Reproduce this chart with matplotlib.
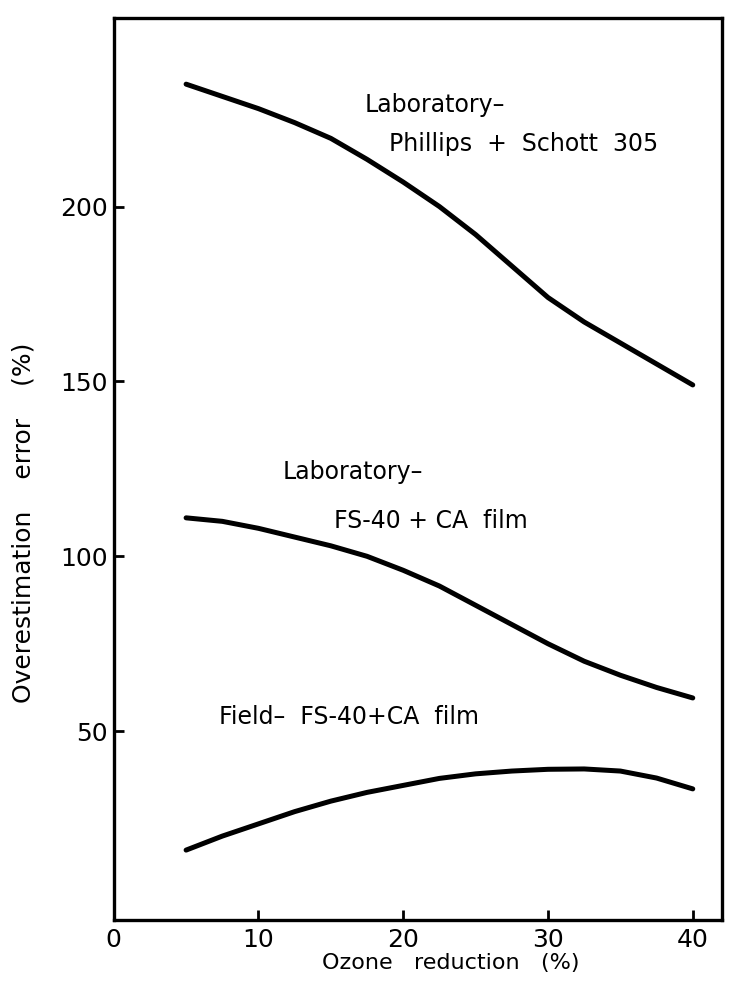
import matplotlib
matplotlib.use("Agg")
import matplotlib.pyplot as plt

# values
ozone = [5, 7.5, 10, 12.5, 15, 17.5, 20, 22.5, 25, 27.5, 30, 32.5, 35, 37.5, 40]
lab_phillips = [235, 231.5, 228, 224, 219.5, 213.5, 207, 200, 192, 183, 174, 167, 161, 155, 149]
lab_fs40 = [111, 110, 108, 105.5, 103, 100, 96, 91.5, 86, 80.5, 75, 70, 66, 62.5, 59.5]
field_fs40 = [16, 20, 23.5, 27, 30, 32.5, 34.5, 36.5, 37.8, 38.6, 39.1, 39.2, 38.6, 36.6, 33.5]

xticks = [0, 10, 20, 30, 40]
yticks = [50, 100, 150, 200]

plt.rcParams['font.family'] = ['DejaVu Sans']

fig = plt.figure(figsize=(7.29, 9.84), dpi=100)
ax = fig.add_axes([0.156, 0.065, 0.834, 0.917])

for ys in (lab_phillips, lab_fs40, field_fs40):
    ax.plot(ozone, ys, color='black', lw=3.6, solid_capstyle='round')

ax.set_xlim(0, 42)
ax.set_ylim(-4, 254)
ax.set_xticks(xticks)
ax.set_yticks(yticks)
ax.tick_params(direction='in', length=7, width=2, labelsize=18)
ax.tick_params(axis='x', pad=6)
ax.tick_params(axis='y', pad=4)
for s in ax.spines.values():
    s.set_linewidth(2.4)

ax.set_xlabel('Ozone   reduction   (%)', fontsize=16)
ax.xaxis.set_label_coords(0.554, -0.036)
ax.set_ylabel('Overestimation    error    (%)', fontsize=18)
ax.yaxis.set_label_coords(-0.128, 0.44)

# curve labels
fs = 17
ax.text(17.3, 229, 'Laboratory\u2013', fontsize=fs, va='center')
ax.text(19.0, 218, 'Phillips  +  Schott  305', fontsize=fs, va='center')
ax.text(11.7, 124, 'Laboratory\u2013', fontsize=fs, va='center')
ax.text(15.2, 110, 'FS-40 + CA  film', fontsize=fs, va='center')
ax.text(7.3, 54, 'Field\u2013  FS-40+CA  film', fontsize=fs, va='center')

fig.savefig('out.png', dpi=100)
